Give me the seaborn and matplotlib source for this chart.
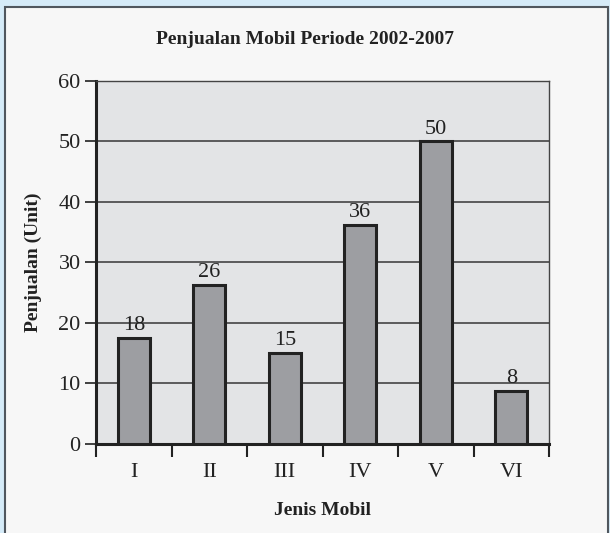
import matplotlib
matplotlib.use("Agg")
import matplotlib.pyplot as plt
import pandas as pd
import seaborn as sns
from matplotlib.patches import Rectangle

# data
jenis = ["I", "II", "III", "IV", "V", "VI"]
tinggi = [17.5, 26.3, 15.0, 36.2, 50.0, 8.8]
label_bar = ["18", "26", "15", "36", "50", "8"]
y_ticks = [0, 10, 20, 30, 40, 50, 60]

df = pd.DataFrame({"jenis": jenis, "penjualan": tinggi})

sns.set_theme(style="white")
plt.rcParams["font.family"] = ["Liberation Serif", "DejaVu Serif"]

fig = plt.figure(figsize=(6.1, 5.33), dpi=100, facecolor="#d5ebf8")
# white panel with border, behind the axes
fig.patches.append(Rectangle((5 / 610, -0.02), 603 / 610, 1 - 7 / 533 + 0.02,
                             transform=fig.transFigure, facecolor="#f7f7f7",
                             edgecolor="#50575e", linewidth=1.5, zorder=-10))

ax = fig.add_axes([96 / 610, 1 - 443.7 / 533, 453 / 610, (443.7 - 81) / 533])
ax.set_facecolor("#e3e4e6")

sns.barplot(data=df, x="jenis", y="penjualan", ax=ax, width=0.42,
            color="#9d9ea2", edgecolor="#222222", linewidth=2.2,
            saturation=1, zorder=3)
ax.bar_label(ax.containers[0], labels=label_bar, padding=2, fontsize=16,
             color="#222222")

ax.set_ylim(0, 60)
ax.set_xlim(-0.5, len(jenis) - 0.5)
ax.set_yticks(y_ticks)
for v in y_ticks[1:-1]:
    ax.axhline(v, color="#444444", linewidth=1.2, zorder=1)

# tick marks between categories, labels at centres
ax.set_xticks([i - 0.5 for i in range(len(jenis) + 1)], minor=True)
ax.tick_params(axis="x", which="major", length=0, pad=14, labelsize=16,
               colors="#222222")
ax.tick_params(axis="x", which="minor", direction="out", length=9, width=1.5,
               color="#222222", bottom=True)
ax.tick_params(axis="y", direction="out", length=8, width=1.2, left=True,
               labelsize=16, colors="#222222", pad=3)

for s in ["left", "bottom"]:
    ax.spines[s].set_color("#222222")
    ax.spines[s].set_linewidth(2.2)
for s in ["top", "right"]:
    ax.spines[s].set_color("#444444")
    ax.spines[s].set_linewidth(1.0)

ax.set_xlabel("Jenis Mobil", fontsize=14, fontweight="bold", labelpad=14,
              color="#222222")
ax.set_ylabel("Penjualan (Unit)", fontsize=14, fontweight="bold", labelpad=12,
              color="#222222")
fig.text(0.5, 1 - 40 / 533, "Penjualan Mobil Periode 2002-2007", ha="center",
         va="center", fontsize=14, fontweight="bold", color="#222222")

fig.savefig("out.png", dpi=100, facecolor=fig.get_facecolor())
